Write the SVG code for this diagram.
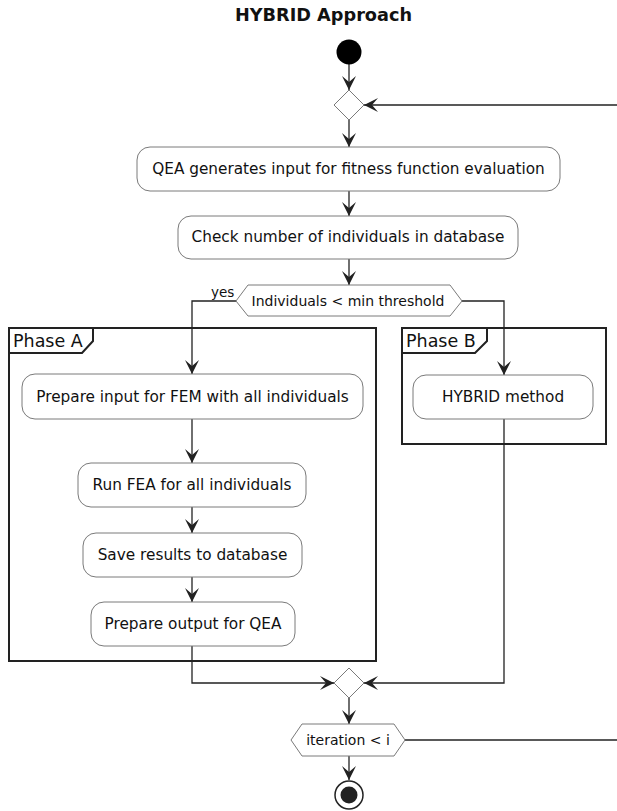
<svg xmlns="http://www.w3.org/2000/svg" width="617" height="811" viewBox="0 0 617 811">
<defs>
<marker id="ah" markerUnits="userSpaceOnUse" markerWidth="20" markerHeight="20" refX="0" refY="0" viewBox="-16 -10 20 20" orient="auto">
<path d="M0,0 L-14,-7 L-8,0 L-14,7 Z" fill="#222"/>
</marker>
</defs>
<style>
text{font-family:"DejaVu Sans","Liberation Sans",sans-serif;fill:#111}
.act{fill:#fff;stroke:#7a7a7a;stroke-width:1}
.t{font-size:15.3px;text-anchor:middle}
.d{font-size:14px;text-anchor:middle}
.frame{fill:none;stroke:#222;stroke-width:2}
.ph{font-size:17.5px}
.c{fill:none;stroke:#222;stroke-width:1.3}
.ca{fill:none;stroke:#222;stroke-width:1.3;marker-end:url(#ah)}
.dia{fill:#fff;stroke:#7a7a7a;stroke-width:1}
</style>
<rect width="617" height="811" fill="#fff"/>
<text x="323.5" y="21" style="font-size:17.7px;font-weight:bold;text-anchor:middle">HYBRID Approach</text>

<g id="phaseA">
<rect class="frame" x="9" y="328" width="367" height="333"/>
<path class="frame" d="M9,353 L82,353 L93,341 L93,328"/>
<text class="ph" x="13" y="347">Phase A</text>
</g>
<g id="phaseB">
<rect class="frame" x="402" y="328" width="204" height="116"/>
<path class="frame" d="M402,353 L475,353 L487,341 L487,328"/>
<text class="ph" x="406" y="347">Phase B</text>
</g>

<g id="connectors">
<line class="ca" x1="349" y1="64" x2="349" y2="90"/>
<line class="ca" x1="617" y1="105" x2="364" y2="105"/>
<line class="ca" x1="349" y1="120" x2="349" y2="147"/>
<line class="ca" x1="349" y1="191" x2="349" y2="216"/>
<line class="ca" x1="349" y1="259" x2="349" y2="285"/>
<polyline class="ca" points="236,301 192,301 192,374"/>
<polyline class="ca" points="462,301 504,301 504,375"/>
<line class="ca" x1="192" y1="419" x2="192" y2="463"/>
<line class="ca" x1="192" y1="507" x2="192" y2="533"/>
<line class="ca" x1="192" y1="577" x2="192" y2="602"/>
<polyline class="ca" points="192,646 192,683 334,683"/>
<polyline class="ca" points="504,419 504,683 364,683"/>
<line class="ca" x1="349" y1="698" x2="349" y2="724"/>
<line class="c" x1="405" y1="740" x2="617" y2="740"/>
<line class="ca" x1="349" y1="756" x2="349" y2="780"/>
<text x="211" y="297" style="font-size:13.5px">yes</text>
</g>

<g id="start"><circle cx="349" cy="52" r="12.5" fill="#000"/></g>
<g id="merge1"><polygon class="dia" points="349,90 364,105 349,120 334,105"/></g>
<g id="qea"><rect class="act" x="137" y="147" width="423" height="44" rx="13"/><text class="t" x="348.5" y="173.5">QEA generates input for fitness function evaluation</text></g>
<g id="check"><rect class="act" x="178" y="216" width="340" height="43" rx="13"/><text class="t" x="348" y="242">Check number of individuals in database</text></g>
<g id="dec1"><polygon class="dia" points="236,301 248,285 450,285 462,301 450,316 248,316"/><text class="d" x="348" y="305.5">Individuals &lt; min threshold</text></g>
<g id="prepIn"><rect class="act" x="22" y="374" width="341" height="45" rx="13"/><text class="t" x="192.5" y="401.5">Prepare input for FEM with all individuals</text></g>
<g id="hybrid"><rect class="act" x="413" y="375" width="180" height="44" rx="13"/><text class="t" x="503" y="402">HYBRID method</text></g>
<g id="runFEA"><rect class="act" x="78" y="463" width="228" height="44" rx="13"/><text class="t" x="192" y="490">Run FEA for all individuals</text></g>
<g id="save"><rect class="act" x="83" y="533" width="219" height="44" rx="13"/><text class="t" x="192.5" y="560">Save results to database</text></g>
<g id="prepOut"><rect class="act" x="91" y="602" width="204" height="44" rx="13"/><text class="t" x="193" y="629">Prepare output for QEA</text></g>
<g id="merge2"><polygon class="dia" points="349,668 364,683 349,698 334,683"/></g>
<g id="dec2"><polygon class="dia" points="291,740 302,724 394,724 405,740 394,756 302,756"/><text class="d" x="348" y="744.5">iteration &lt; i</text></g>
<g id="end"><circle cx="349" cy="795" r="14" fill="#fff" stroke="#222" stroke-width="1.5"/><circle cx="349" cy="795" r="8.5" fill="#222"/></g>
</svg>
